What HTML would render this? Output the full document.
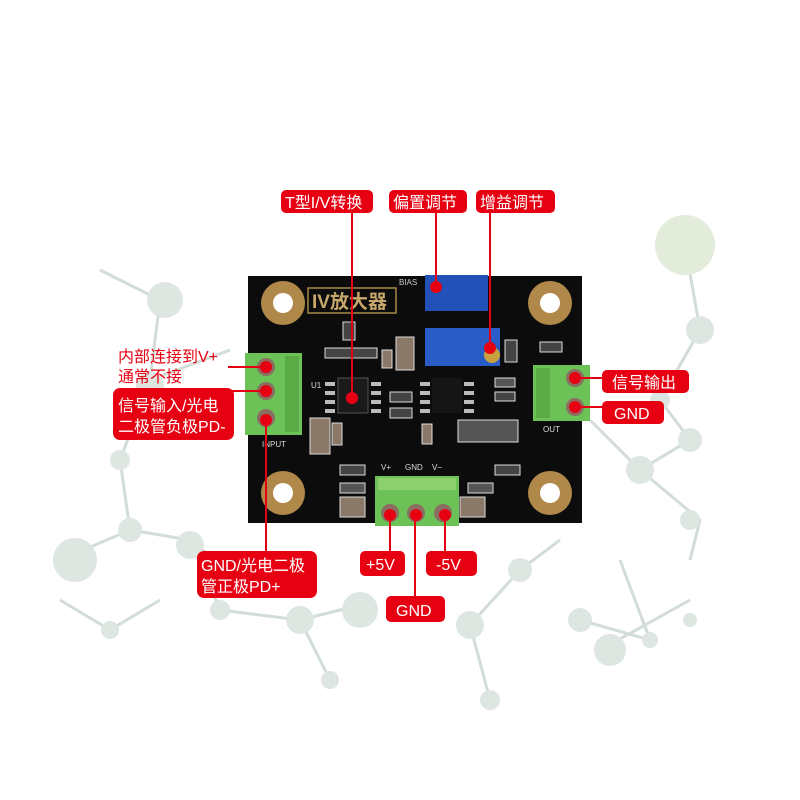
<!DOCTYPE html>
<html><head><meta charset="utf-8"><style>
html,body{margin:0;padding:0;background:#fff}
svg{display:block}
text{font-family:"Liberation Sans","Noto Sans CJK SC",sans-serif}
</style></head><body>
<svg width="800" height="800" viewBox="0 0 800 800" xmlns="http://www.w3.org/2000/svg">
<!-- background network -->
<g stroke="#d3ddd8" stroke-width="3" fill="none">
<path d="M100 270 L160 300 L150 380 L120 460 L130 530 L190 540 L240 580"/>
<path d="M150 380 L230 350 M130 530 L60 560 M190 540 L220 610 L300 620 L330 680"/>
<path d="M685 245 L700 330 L660 400 L690 440 L640 470 L700 520 L690 560"/>
<path d="M590 420 L640 470 M300 620 L360 605 M470 625 L520 570 L560 540 M470 625 L490 700 M580 620 L650 640 M620 560 L650 640"/>
<path d="M60 600 L110 630 L160 600 M600 650 L690 600"/>
</g>
<g fill="#dde6e1">
<circle cx="685" cy="245" r="30" fill="#e4ecdc"/>
<circle cx="165" cy="300" r="18"/>
<circle cx="150" cy="385" r="14"/>
<circle cx="120" cy="460" r="10"/>
<circle cx="130" cy="530" r="12"/>
<circle cx="190" cy="545" r="14"/>
<circle cx="240" cy="580" r="8"/>
<circle cx="75" cy="560" r="22"/>
<circle cx="110" cy="630" r="9"/>
<circle cx="220" cy="610" r="10"/>
<circle cx="300" cy="620" r="14"/>
<circle cx="330" cy="680" r="9"/>
<circle cx="360" cy="610" r="18"/>
<circle cx="470" cy="625" r="14"/>
<circle cx="490" cy="700" r="10"/>
<circle cx="520" cy="570" r="12"/>
<circle cx="700" cy="330" r="14"/>
<circle cx="660" cy="400" r="10"/>
<circle cx="690" cy="440" r="12"/>
<circle cx="640" cy="470" r="14"/>
<circle cx="690" cy="520" r="10"/>
<circle cx="580" cy="620" r="12"/>
<circle cx="650" cy="640" r="8"/>
<circle cx="610" cy="650" r="16"/>
<circle cx="690" cy="620" r="7"/>
</g>
<!-- PCB -->
<rect x="248" y="276" width="334" height="247" fill="#0c0c0c"/>
<!-- mounting holes -->
<g fill="#b0884a">
<circle cx="283" cy="303" r="22"/><circle cx="550" cy="303" r="22"/>
<circle cx="283" cy="493" r="22"/><circle cx="550" cy="493" r="22"/>
</g>
<g fill="#fff"><circle cx="283" cy="303" r="10"/><circle cx="550" cy="303" r="10"/><circle cx="283" cy="493" r="10"/><circle cx="550" cy="493" r="10"/></g>
<!-- IV label -->
<rect x="308" y="288" width="88" height="25" fill="none" stroke="#a88a4a" stroke-width="1.5"/>
<text x="312" y="308" font-size="19" fill="#c7a86a" font-weight="bold">IV放大器</text>
<text x="399" y="285" font-size="8" fill="#ccc" font-family="Liberation Serif">BIAS</text>
<!-- pots -->
<rect x="425" y="275" width="63" height="36" fill="#2251b8"/>
<rect x="425" y="328" width="75" height="38" fill="#2a5cc8"/>
<circle cx="492" cy="355" r="8" fill="#c8a040"/>
<!-- ICs -->
<rect x="338" y="378" width="30" height="35" fill="#1a1a1a" stroke="#555"/>
<rect x="432" y="378" width="30" height="35" fill="#151515"/>
<g fill="#bbb">
<rect x="325" y="382" width="10" height="4"/><rect x="325" y="391" width="10" height="4"/><rect x="325" y="400" width="10" height="4"/><rect x="325" y="409" width="10" height="4"/>
<rect x="371" y="382" width="10" height="4"/><rect x="371" y="391" width="10" height="4"/><rect x="371" y="400" width="10" height="4"/><rect x="371" y="409" width="10" height="4"/>
<rect x="420" y="382" width="10" height="4"/><rect x="420" y="391" width="10" height="4"/><rect x="420" y="400" width="10" height="4"/><rect x="420" y="409" width="10" height="4"/>
<rect x="464" y="382" width="10" height="4"/><rect x="464" y="391" width="10" height="4"/><rect x="464" y="400" width="10" height="4"/><rect x="464" y="409" width="10" height="4"/>
</g>
<!-- smd parts -->
<g fill="#8a7868" stroke="#ddd" stroke-width="1">
<rect x="396" y="337" width="18" height="33"/><rect x="382" y="350" width="10" height="18"/>
<rect x="310" y="418" width="20" height="36"/><rect x="332" y="423" width="10" height="22"/>
<rect x="340" y="497" width="25" height="20"/><rect x="460" y="497" width="25" height="20"/>
<rect x="422" y="424" width="10" height="20"/>
<rect x="458" y="420" width="60" height="22" fill="#555"/>
<rect x="343" y="322" width="12" height="18" fill="#444"/>
<rect x="325" y="348" width="52" height="10" fill="#444"/>
<rect x="390" y="392" width="22" height="10" fill="#444"/><rect x="390" y="408" width="22" height="10" fill="#444"/>
<rect x="495" y="378" width="20" height="9" fill="#555"/><rect x="495" y="392" width="20" height="9" fill="#444"/>
<rect x="505" y="340" width="12" height="22" fill="#444"/><rect x="540" y="342" width="22" height="10" fill="#444"/>
<rect x="340" y="465" width="25" height="10" fill="#444"/><rect x="340" y="483" width="25" height="10" fill="#555"/>
<rect x="495" y="465" width="25" height="10" fill="#444"/><rect x="468" y="483" width="25" height="10" fill="#555"/>
</g>
<g font-family="Liberation Serif" font-size="8" fill="#ddd">
<text x="262" y="447">INPUT</text><text x="543" y="432">OUT</text>
<text x="381" y="470">V+</text><text x="405" y="470">GND</text><text x="432" y="470">V−</text>
<text x="311" y="388">U1</text>
</g>
<!-- terminals -->
<rect x="245" y="353" width="57" height="82" fill="#6cc256"/>
<rect x="285" y="356" width="14" height="76" fill="#5aab46"/>
<rect x="533" y="365" width="57" height="56" fill="#6cc256"/>
<rect x="536" y="368" width="14" height="50" fill="#5aab46"/>
<rect x="375" y="476" width="84" height="50" fill="#6cc256"/>
<rect x="378" y="478" width="78" height="12" fill="#8ed070"/>
<g fill="#8a6e62">
<circle cx="266" cy="367" r="9"/><circle cx="266" cy="391" r="9"/><circle cx="266" cy="418" r="9"/>
<circle cx="575" cy="378" r="9"/><circle cx="575" cy="407" r="9"/>
<circle cx="390" cy="513" r="9"/><circle cx="416" cy="513" r="9"/><circle cx="443" cy="513" r="9"/>
</g>
<!-- lines -->
<g stroke="#e60012" stroke-width="2" fill="none">
<path d="M352 212 V398"/><path d="M436 212 V287"/><path d="M490 212 V348"/>
<path d="M228 367 H266"/><path d="M230 391 H266"/><path d="M266 420 V552"/>
<path d="M575 378 H605"/><path d="M575 407 H605"/>
<path d="M390 515 V552"/><path d="M415 515 V598"/><path d="M445 515 V552"/>
</g>
<g fill="#e60012">
<circle cx="352" cy="398" r="6"/><circle cx="436" cy="287" r="6"/><circle cx="490" cy="348" r="6"/>
<circle cx="266" cy="367" r="6"/><circle cx="266" cy="391" r="6"/><circle cx="266" cy="420" r="6"/>
<circle cx="575" cy="378" r="6"/><circle cx="575" cy="407" r="6"/>
<circle cx="390" cy="515" r="6"/><circle cx="416" cy="515" r="6"/><circle cx="445" cy="515" r="6"/>
</g>
<!-- label boxes -->
<g fill="#e60012">
<rect x="281" y="190" width="92" height="23" rx="5"/>
<rect x="389" y="190" width="78" height="23" rx="5"/>
<rect x="476" y="190" width="79" height="23" rx="5"/>
<rect x="113" y="388" width="121" height="52" rx="7"/>
<rect x="197" y="551" width="120" height="47" rx="7"/>
<rect x="602" y="370" width="87" height="23" rx="5"/>
<rect x="602" y="401" width="62" height="23" rx="5"/>
<rect x="360" y="551" width="45" height="25" rx="5"/>
<rect x="426" y="551" width="51" height="25" rx="5"/>
<rect x="386" y="596" width="59" height="26" rx="5"/>
</g>
<g fill="#fff" font-size="16">
<text x="285" y="208">T型I/V转换</text>
<text x="393" y="208">偏置调节</text>
<text x="480" y="208">增益调节</text>
<text x="118" y="411">信号输入/光电</text>
<text x="118" y="432">二极管负极PD-</text>
<text x="201" y="571">GND/光电二极</text>
<text x="201" y="592">管正极PD+</text>
<text x="612" y="388">信号输出</text>
<text x="614" y="419">GND</text>
<text x="366" y="570">+5V</text>
<text x="436" y="570">-5V</text>
<text x="396" y="616">GND</text>
</g>
<g fill="#e60012" font-size="16">
<text x="118" y="362">内部连接到V+</text>
<text x="118" y="382">通常不接</text>
</g>
</svg>
</body></html>
